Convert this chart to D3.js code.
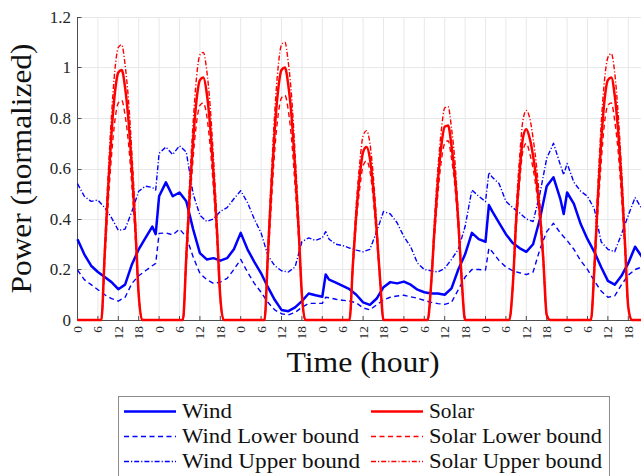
<!DOCTYPE html>
<html><head><meta charset="utf-8">
<script src="https://cdn.jsdelivr.net/npm/d3@7/dist/d3.min.js"></script>
<style>
html,body{margin:0;padding:0;background:#fff;}
svg{display:block;}
</style></head>
<body>
<svg id="chart" width="641" height="476"></svg>
<script>
// ---------- data ----------
const windHours = [0,2,4,6,8,10,12,14,16,18,20,22,23,24,26,28,30,32,34,36,38,40,42,44,46,48,50,52,54,56,58,60,62,64,66,68,70,72,73,74,76,78,80,82,84,86,88,90,92,94,96,98,100,102,104,106,108,110,112,114,116,118,120,121,122,124,126,128,130,132,134,136,138,140,142,143,144,146,148,150,152,154,156,158,160,162,164,166,168];
const wind = [0.32,0.26,0.215,0.19,0.17,0.15,0.122,0.14,0.22,0.28,0.325,0.37,0.34,0.49,0.545,0.49,0.505,0.47,0.36,0.265,0.24,0.245,0.235,0.245,0.28,0.345,0.28,0.23,0.185,0.13,0.08,0.04,0.035,0.05,0.075,0.105,0.098,0.092,0.18,0.16,0.148,0.135,0.122,0.10,0.07,0.06,0.085,0.13,0.15,0.145,0.152,0.14,0.12,0.11,0.105,0.105,0.10,0.125,0.2,0.26,0.345,0.32,0.31,0.455,0.43,0.385,0.34,0.305,0.285,0.27,0.30,0.40,0.53,0.565,0.48,0.42,0.505,0.46,0.38,0.32,0.27,0.21,0.155,0.14,0.175,0.225,0.29,0.25,0.24];
const windUpper = [0.54,0.49,0.47,0.475,0.445,0.405,0.355,0.36,0.43,0.51,0.53,0.525,0.515,0.66,0.685,0.655,0.69,0.665,0.50,0.415,0.39,0.40,0.43,0.445,0.48,0.512,0.465,0.40,0.345,0.255,0.215,0.195,0.19,0.21,0.31,0.325,0.315,0.325,0.35,0.32,0.30,0.295,0.285,0.277,0.27,0.28,0.35,0.43,0.42,0.385,0.33,0.29,0.225,0.20,0.195,0.19,0.205,0.24,0.28,0.37,0.515,0.49,0.469,0.585,0.565,0.54,0.47,0.445,0.425,0.40,0.39,0.50,0.64,0.70,0.615,0.575,0.62,0.545,0.51,0.49,0.44,0.31,0.28,0.27,0.34,0.415,0.485,0.44,0.42];
const windLower = [0.198,0.16,0.14,0.12,0.10,0.085,0.075,0.09,0.145,0.175,0.195,0.215,0.224,0.343,0.345,0.337,0.36,0.33,0.25,0.185,0.16,0.145,0.15,0.165,0.20,0.24,0.19,0.145,0.11,0.07,0.04,0.025,0.02,0.03,0.05,0.066,0.066,0.066,0.09,0.088,0.082,0.078,0.075,0.068,0.048,0.04,0.06,0.08,0.09,0.095,0.098,0.092,0.086,0.078,0.07,0.065,0.062,0.07,0.12,0.17,0.2,0.2,0.198,0.284,0.27,0.235,0.21,0.195,0.187,0.18,0.19,0.28,0.35,0.383,0.345,0.33,0.315,0.28,0.235,0.2,0.155,0.115,0.09,0.095,0.14,0.178,0.2,0.21,0.21];

// solar: hour-of-day 6..19 for each of the 7 days (zero at night)
const solarDayHours = [6,7,8,9,10,11,12,13,14,15,16,17,18,19];
const solar = [
  [0,0,0.26,0.52,0.74,0.90,0.98,0.99,0.92,0.79,0.60,0.37,0.10,0],
  [0,0,0.25,0.50,0.71,0.87,0.95,0.96,0.90,0.77,0.58,0.36,0.09,0],
  [0,0,0.26,0.52,0.75,0.91,0.99,1.00,0.93,0.80,0.60,0.37,0.10,0],
  [0,0,0,0.22,0.42,0.57,0.665,0.685,0.64,0.52,0.35,0.16,0,0],
  [0,0,0.14,0.36,0.55,0.69,0.765,0.77,0.69,0.57,0.39,0.16,0,0],
  [0,0,0.13,0.39,0.58,0.72,0.755,0.72,0.65,0.55,0.42,0.24,0.02,0],
  [0,0,0.20,0.47,0.70,0.87,0.95,0.96,0.89,0.75,0.55,0.31,0.05,0]
];
const solarUpper = [
  [0,0,0.29,0.57,0.81,0.99,1.08,1.09,1.01,0.87,0.66,0.41,0.11,0],
  [0,0,0.28,0.55,0.78,0.96,1.05,1.06,0.99,0.85,0.64,0.40,0.10,0],
  [0,0,0.29,0.57,0.82,1.00,1.09,1.10,1.02,0.88,0.66,0.41,0.11,0],
  [0,0,0,0.24,0.46,0.62,0.73,0.75,0.70,0.57,0.38,0.17,0,0],
  [0,0,0.15,0.40,0.60,0.75,0.84,0.845,0.76,0.63,0.42,0.18,0,0],
  [0,0,0.14,0.43,0.64,0.79,0.83,0.80,0.72,0.61,0.46,0.26,0.02,0],
  [0,0,0.22,0.52,0.77,0.95,1.04,1.055,0.98,0.82,0.60,0.34,0.05,0]
];
const solarLower = [
  [0,0,0.23,0.46,0.65,0.79,0.86,0.87,0.81,0.70,0.53,0.33,0.09,0],
  [0,0,0.22,0.45,0.64,0.78,0.85,0.86,0.81,0.69,0.52,0.32,0.08,0],
  [0,0,0.23,0.46,0.67,0.81,0.88,0.89,0.83,0.71,0.53,0.33,0.09,0],
  [0,0,0,0.20,0.39,0.52,0.61,0.63,0.59,0.48,0.32,0.15,0,0],
  [0,0,0.13,0.33,0.50,0.63,0.70,0.71,0.64,0.53,0.36,0.15,0,0],
  [0,0,0.12,0.36,0.54,0.67,0.70,0.66,0.60,0.51,0.39,0.22,0.02,0],
  [0,0,0.18,0.42,0.62,0.78,0.85,0.86,0.79,0.67,0.49,0.28,0.04,0]
];

const xTickLabels = ["0","6","12","18"];
const yTickValues = [0,0.2,0.4,0.6,0.8,1,1.2];
const yTickLabels = ["0","0.2","0.4","0.6","0.8","1","1.2"];
const legendLabels = ["Wind","Wind Lower bound","Wind Upper bound","Solar","Solar Lower bound","Solar Upper bound"];

// ---------- drawing ----------
const FONT = "Liberation Serif";
const svg = d3.select("#chart");
const x = d3.scaleLinear().domain([0,168]).range([77.5,648.7]);
const y = d3.scaleLinear().domain([0,1.2]).range([320,17]);
const xTicks = d3.range(0,169,6);
const xLabelTicks = d3.range(0,163,6);

// grid
svg.append("g").selectAll("line").data(xTicks).join("line")
  .attr("x1",d=>x(d)).attr("x2",d=>x(d)).attr("y1",y(0)).attr("y2",y(1.2))
  .attr("stroke","#e8e8e8").attr("stroke-width",1);
svg.append("g").selectAll("line").data(yTickValues.slice(1)).join("line")
  .attr("x1",x(0)).attr("x2",x(168)).attr("y1",d=>Math.round(y(d))+0.5).attr("y2",d=>Math.round(y(d))+0.5)
  .attr("stroke","#e8e8e8").attr("stroke-width",1);

// axes lines + ticks
const axCol = "#4d4d4d";
svg.append("line").attr("x1",x(0)).attr("x2",x(0)).attr("y1",y(0)).attr("y2",y(1.2)).attr("stroke",axCol);
svg.append("line").attr("x1",x(0)).attr("x2",x(168)).attr("y1",y(0)+0.5).attr("y2",y(0)+0.5).attr("stroke",axCol);
svg.append("g").selectAll("line").data(yTickValues).join("line")
  .attr("x1",x(0)).attr("x2",x(0)+4).attr("y1",d=>Math.round(y(d))+0.5).attr("y2",d=>Math.round(y(d))+0.5).attr("stroke",axCol);
svg.append("g").selectAll("line").data(xTicks).join("line")
  .attr("x1",d=>x(d)).attr("x2",d=>x(d)).attr("y1",y(0)).attr("y2",y(0)-4).attr("stroke",axCol);

// tick labels
svg.append("g").selectAll("text").data(yTickValues).join("text")
  .style("font-family",FONT)
  .attr("x",71).attr("y",d=>y(d)).attr("dy","0.34em")
  .attr("text-anchor","end").style("font-size","17px").attr("fill","#262626")
  .text((d,i)=>yTickLabels[i]);
svg.append("g").selectAll("text").data(xLabelTicks).join("text")
  .style("font-family",FONT)
  .attr("transform",d=>`translate(${x(d)},326) rotate(-90)`).attr("dy","0.34em")
  .attr("text-anchor","end").style("font-size","13.5px").attr("fill","#262626")
  .text((d,i)=>xTickLabels[i%4]);

// axis titles
svg.append("text").style("font-family",FONT).attr("x",363).attr("y",372).attr("text-anchor","middle")
  .style("font-size","29px").attr("fill","#111").attr("textLength",153).attr("lengthAdjust","spacingAndGlyphs")
  .text("Time (hour)");
svg.append("text").style("font-family",FONT).attr("transform","translate(31,168.5) rotate(-90)").attr("text-anchor","middle")
  .style("font-size","29px").attr("fill","#111").attr("textLength",250).attr("lengthAdjust","spacingAndGlyphs")
  .text("Power (normalized)");

// series
const styles = {
  solid:{dash:null,w:2.5},
  lower:{dash:"5,3.5",w:1.4},
  upper:{dash:"5,2,1.2,2",w:1.4}
};
const windLine = d3.line().x(d=>x(d[0])).y(d=>y(d[1]));
const solarLine = d3.line().x(d=>x(d[0])).y(d=>y(d[1])).curve(d3.curveMonotoneX);

function windPts(vals){ return windHours.map((h,i)=>[h,vals[i]]); }
function solarPts(days){
  const pts=[[0,0]];
  days.forEach((arr,d)=>arr.forEach((v,i)=>pts.push([d*24+solarDayHours[i],v])));
  pts.push([168,0]);
  return pts;
}
const series = [
  {pts:windPts(windLower), col:"#0000ff", st:styles.lower, line:windLine},
  {pts:windPts(windUpper), col:"#0000ff", st:styles.upper, line:windLine},
  {pts:windPts(wind), col:"#0000ff", st:styles.solid, line:windLine},
  {pts:solarPts(solarLower), col:"#ff0000", st:styles.lower, line:solarLine},
  {pts:solarPts(solarUpper), col:"#ff0000", st:styles.upper, line:solarLine},
  {pts:solarPts(solar), col:"#ff0000", st:styles.solid, line:solarLine}
];
series.forEach(s=>{
  svg.append("path").attr("d",s.line(s.pts)).attr("fill","none")
    .attr("stroke",s.col).attr("stroke-width",s.st.w)
    .attr("stroke-dasharray",s.st.dash).attr("stroke-linejoin","round");
});

// legend
const lg = svg.append("g");
lg.append("rect").attr("x",118.5).attr("y",396.5).attr("width",491).attr("height",100)
  .attr("fill","#fff").attr("stroke","#8c8c8c").attr("stroke-width",1);
const legItems = [
  {c:0,r:0,col:"#0000ff",st:styles.solid,len:50},
  {c:0,r:1,col:"#0000ff",st:styles.lower,len:177},
  {c:0,r:2,col:"#0000ff",st:styles.upper,len:178},
  {c:1,r:0,col:"#ff0000",st:styles.solid,len:45},
  {c:1,r:1,col:"#ff0000",st:styles.lower,len:173},
  {c:1,r:2,col:"#ff0000",st:styles.upper,len:173}
];
const colX = [124,371];
legItems.forEach((it,i)=>{
  const yy = 411.5 + it.r*25;
  lg.append("line").attr("x1",colX[it.c]).attr("x2",colX[it.c]+52).attr("y1",yy).attr("y2",yy)
    .attr("stroke",it.col).attr("stroke-width",it.st.w===2.5?2.5:1.4).attr("stroke-dasharray",it.st.dash);
  lg.append("text").style("font-family",FONT).attr("x",colX[it.c]+58).attr("y",yy+6.5)
    .style("font-size","21px").attr("fill","#111")
    .attr("textLength",it.len).attr("lengthAdjust","spacingAndGlyphs")
    .text(legendLabels[i]);
});
</script>
</body></html>
